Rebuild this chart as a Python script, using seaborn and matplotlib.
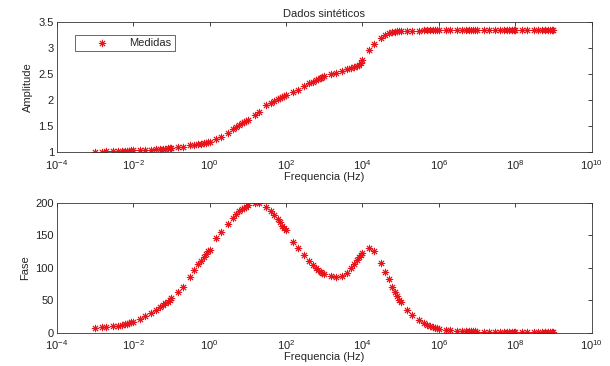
import matplotlib
matplotlib.use("Agg")
import matplotlib.pyplot as plt
import seaborn as sns
import pandas as pd
from matplotlib.ticker import LogLocator, NullLocator

# Frequencies (Hz): per decade points at 1,1.5,2,3,4,5,6,7,8,9
freq = [
    1e-3, 1.5e-3, 2e-3, 3e-3, 4e-3, 5e-3, 6e-3, 7e-3, 8e-3, 9e-3,
    1e-2, 1.5e-2, 2e-2, 3e-2, 4e-2, 5e-2, 6e-2, 7e-2, 8e-2, 9e-2,
    1e-1, 1.5e-1, 2e-1, 3e-1, 4e-1, 5e-1, 6e-1, 7e-1, 8e-1, 9e-1,
    1e0, 1.5e0, 2e0, 3e0, 4e0, 5e0, 6e0, 7e0, 8e0, 9e0,
    1e1, 1.5e1, 2e1, 3e1, 4e1, 5e1, 6e1, 7e1, 8e1, 9e1,
    1e2, 1.5e2, 2e2, 3e2, 4e2, 5e2, 6e2, 7e2, 8e2, 9e2,
    1e3, 1.5e3, 2e3, 3e3, 4e3, 5e3, 6e3, 7e3, 8e3, 9e3,
    1e4, 1.5e4, 2e4, 3e4, 4e4, 5e4, 6e4, 7e4, 8e4, 9e4,
    1e5, 1.5e5, 2e5, 3e5, 4e5, 5e5, 6e5, 7e5, 8e5, 9e5,
    1e6, 1.5e6, 2e6, 3e6, 4e6, 5e6, 6e6, 7e6, 8e6, 9e6,
    1e7, 1.5e7, 2e7, 3e7, 4e7, 5e7, 6e7, 7e7, 8e7, 9e7,
    1e8, 1.5e8, 2e8, 3e8, 4e8, 5e8, 6e8, 7e8, 8e8, 9e8,
    1e9,
]

amplitude = [
    1.01, 1.01, 1.02, 1.02, 1.02, 1.03, 1.03, 1.03, 1.03, 1.04,
    1.04, 1.04, 1.05, 1.05, 1.06, 1.06, 1.07, 1.07, 1.08, 1.08,
    1.09, 1.10, 1.11, 1.13, 1.14, 1.15, 1.16, 1.17, 1.18, 1.19,
    1.20, 1.25, 1.30, 1.38, 1.44, 1.49, 1.53, 1.56, 1.59, 1.61,
    1.63, 1.71, 1.77, 1.90, 1.95, 1.99, 2.02, 2.04, 2.06, 2.08,
    2.10, 2.16, 2.20, 2.28, 2.33, 2.36, 2.39, 2.41, 2.43, 2.44,
    2.46, 2.50, 2.53, 2.57, 2.60, 2.62, 2.64, 2.66, 2.68, 2.71,
    2.78, 2.96, 3.08, 3.20, 3.26, 3.29, 3.31, 3.32, 3.33, 3.33,
    3.34, 3.34, 3.34, 3.34, 3.35, 3.35, 3.35, 3.35, 3.35, 3.35,
    3.35, 3.35, 3.35, 3.35, 3.35, 3.35, 3.35, 3.35, 3.35, 3.35,
    3.35, 3.35, 3.35, 3.35, 3.35, 3.35, 3.35, 3.35, 3.35, 3.35,
    3.35, 3.35, 3.35, 3.35, 3.35, 3.35, 3.35, 3.35, 3.35, 3.35,
    3.35,
]

fase = [
    7, 8, 9, 10, 11, 12, 13, 14, 15, 16,
    17, 21, 25, 31, 35, 39, 42, 45, 48, 51,
    53, 63, 71, 86, 97, 105, 111, 117, 121, 125,
    128, 145, 155, 168, 177, 183, 187, 190, 192, 194,
    196, 199, 199, 193, 187, 181, 175, 170, 165, 161,
    158, 140, 131, 119, 111, 104, 99, 96, 94, 92,
    90, 87, 85, 87, 92, 100, 106, 112, 117, 120,
    122, 130, 126, 107, 94, 82, 70, 62, 56, 51,
    48, 35, 27, 19.5, 15, 12, 10, 9, 7.5, 6.5,
    5.7, 4.5, 4, 3.2, 2.8, 2.5, 2.3, 2.1, 2.0, 1.9,
    1.8, 1.7, 1.7, 1.6, 1.6, 1.5, 1.5, 1.5, 1.4, 1.4,
    1.4, 1.3, 1.3, 1.3, 1.3, 1.2, 1.2, 1.2, 1.2, 1.2,
    1.2,
]

df = pd.DataFrame({"freq": freq, "amp": amplitude, "fase": fase})

sns.set_style("white")
plt.rcParams["font.family"] = ["Liberation Sans", "DejaVu Sans"]
plt.rcParams["mathtext.fontset"] = "custom"
plt.rcParams["mathtext.rm"] = "Liberation Sans"

fig = plt.figure(figsize=(6.10, 3.66), dpi=100)
ax1 = fig.add_axes([0.093, 0.584, 0.877, 0.355])
ax2 = fig.add_axes([0.093, 0.091, 0.877, 0.355])

asterisk = (8, 2, 0)
red = "#e8141c"
kw = dict(marker=asterisk, color=red, s=22, linewidth=0.7, edgecolor=red)

sns.scatterplot(data=df, x="freq", y="amp", ax=ax1, label="Medidas", **kw)
sns.scatterplot(data=df, x="freq", y="fase", ax=ax2, legend=False, **kw)

for ax in (ax1, ax2):
    ax.set_xscale("log")
    ax.set_xlim(1e-4, 1e10)
    ax.xaxis.set_major_locator(LogLocator(base=100))
    ax.xaxis.set_minor_locator(NullLocator())
    ax.tick_params(direction="in", top=True, right=True, labelsize=8,
                   length=3, width=0.6, colors="#222222", pad=2)
    ax.tick_params(axis="x", pad=4)
    for s in ax.spines.values():
        s.set_linewidth(0.6)
        s.set_color("#333333")
    ax.set_xlabel("Frequencia (Hz)", fontsize=8, labelpad=0)

ax1.set_ylim(1, 3.5)
ax1.set_yticks([1, 1.5, 2, 2.5, 3, 3.5])
ax1.set_yticklabels(["1", "1.5", "2", "2.5", "3", "3.5"])
ax1.set_ylabel("Amplitude", fontsize=8, labelpad=4)
ax1.set_title("Dados sintéticos", fontsize=8, pad=4)

ax2.set_ylim(0, 200)
ax2.set_yticks([0, 50, 100, 150, 200])
ax2.set_ylabel("Fase", fontsize=8, labelpad=4)

leg = ax1.legend(loc="upper left", bbox_to_anchor=(0.034, 0.905), fontsize=8,
                 frameon=True, fancybox=False, edgecolor="#222222",
                 handletextpad=0.4, borderpad=0.3, handlelength=4.2,
                 borderaxespad=0)
leg.get_frame().set_linewidth(0.6)

fig.savefig("out.png", dpi=100, facecolor="white")
